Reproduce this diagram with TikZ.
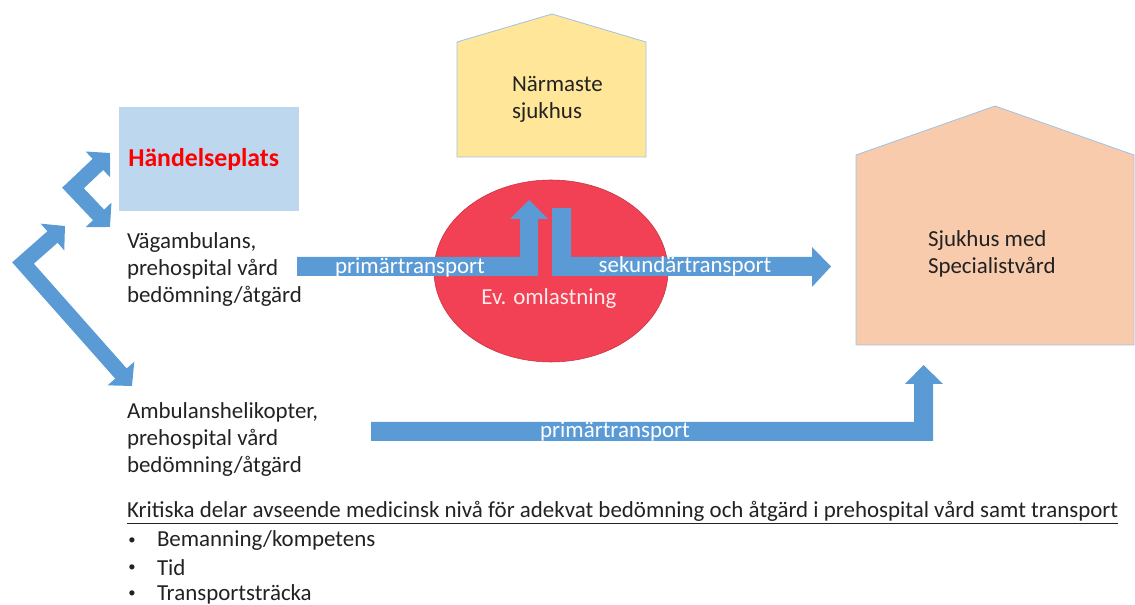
\documentclass[tikz,border=0pt]{standalone}
\usepackage{fontspec}
\setmainfont{Carlito}
\usetikzlibrary{arrows.meta,shapes.geometric}
\definecolor{arrowblue}{HTML}{5B9BD5}
\definecolor{boxblue}{HTML}{BDD7EE}
\definecolor{circred}{HTML}{F24054}
\definecolor{yellowhouse}{HTML}{FFE699}
\definecolor{orangehouse}{HTML}{F8CBAD}
\definecolor{edgeblue}{HTML}{9DC3E6}
\definecolor{textdark}{HTML}{222222}
\definecolor{hred}{HTML}{FF0000}
\begin{document}
\begin{tikzpicture}[x=0.75pt,y=-0.75pt,
  txt/.style={inner sep=0pt,outer sep=0pt,align=left,text=textdark,
    font=\fontsize{17.2pt}{20.5pt}\selectfont},
  armtxt/.style={inner sep=0pt,text=white,font=\fontsize{17.2pt}{20.5pt}\selectfont},
  bul/.style={inner sep=0pt,outer sep=0pt,text=textdark,font=\fontsize{11pt}{13pt}\selectfont},
  blockarrow/.style={fill=arrowblue,draw=none},
  chev/.style={draw=arrowblue,line width=11.5pt,line join=miter,
    {Triangle[length=12.5pt,width=26pt]}-{Triangle[length=12.5pt,width=26pt]}},
  house/.style={draw=edgeblue,line width=0.6pt}
]
\useasboundingbox (0,0) rectangle (1135,605);

% houses
\draw[house,fill=yellowhouse] (457,157) -- (457,42) -- (552,14) -- (646,42) -- (646,157) -- cycle;
\node[txt,anchor=west] (near) at (512,99.5) {Närmaste\\sjukhus};

\draw[house,fill=orangehouse] (856,345) -- (856,155) -- (995,106) -- (1134,155) -- (1134,345) -- cycle;
\node[txt,anchor=west] (spec) at (928,254) {Sjukhus med\\Specialistvård};

% incident place
\node[fill=boxblue,minimum width=180*0.75pt,minimum height=104*0.75pt,inner sep=0pt,anchor=north west] (hbox) at (119,107) {};
\node[anchor=west,inner sep=0pt,text=hred,font=\fontsize{19.3pt}{22pt}\selectfont\bfseries] (hp) at (128,160) {Händelseplats};

% circle
\node[ellipse,fill=circred,draw=circred!80!black,line width=0.4pt,minimum width=234*0.75pt,minimum height=182*0.75pt,inner sep=0pt] (omlast) at (551,271) {};
\node[armtxt,text=white!92!red] (evo) at (549,299) {Ev. omlastning};

% transport block arrows
\fill[blockarrow] (297,257) -- (520,257) -- (520,219) -- (510,219) -- (529,200) -- (548,219) -- (538,219) -- (538,276) -- (297,276) -- cycle;
\fill[blockarrow] (552,208) -- (571,208) -- (571,257) -- (812,257) -- (812,247) -- (831,266.5) -- (812,287) -- (812,276) -- (552,276) -- cycle;
\fill[blockarrow] (371,422) -- (914,422) -- (914,384) -- (905,384) -- (923.5,365) -- (943,384) -- (933,384) -- (933,441) -- (371,441) -- cycle;

\node[armtxt] (p1) at (410,267) {primärtransport};
\node[armtxt] (s1) at (685,266) {sekundärtransport};
\node[armtxt] (p2) at (615,431) {primärtransport};

% ambulance texts
\node[txt,anchor=west] (vag) at (127,269.5) {Vägambulans,\\prehospital vård\\bedömning/åtgärd};
\node[txt,anchor=west] (heli) at (127,439.5) {Ambulanshelikopter,\\prehospital vård\\bedömning/åtgärd};

% chevron double arrows
\coordinate (c1a) at (110,153);
\coordinate (c1m) at (73,188);
\coordinate (c1b) at (110,227);
\draw[chev] (c1a) -- (c1m) -- (c1b);
\coordinate (c2a) at (65,226);
\coordinate (c2m) at (23,263);
\coordinate (c2b) at (132,386);
\draw[chev] (c2a) -- (c2m) -- (c2b);

% bottom list
\node[txt,anchor=west] (crit) at (127,513) {\underline{Kritiska delar avseende medicinsk nivå för adekvat bedömning och åtgärd i prehospital vård samt transport}};
\node[bul] (b1) at (132,541) {•};
\node[txt,anchor=west] (t1) at (157,541) {Bemanning/kompetens};
\node[bul] (b2) at (132,568) {•};
\node[txt,anchor=west] (t2) at (157,568) {Tid};
\node[bul] (b3) at (132,594) {•};
\node[txt,anchor=west] (t3) at (157,594) {Transportsträcka};
\end{tikzpicture}
\end{document}
